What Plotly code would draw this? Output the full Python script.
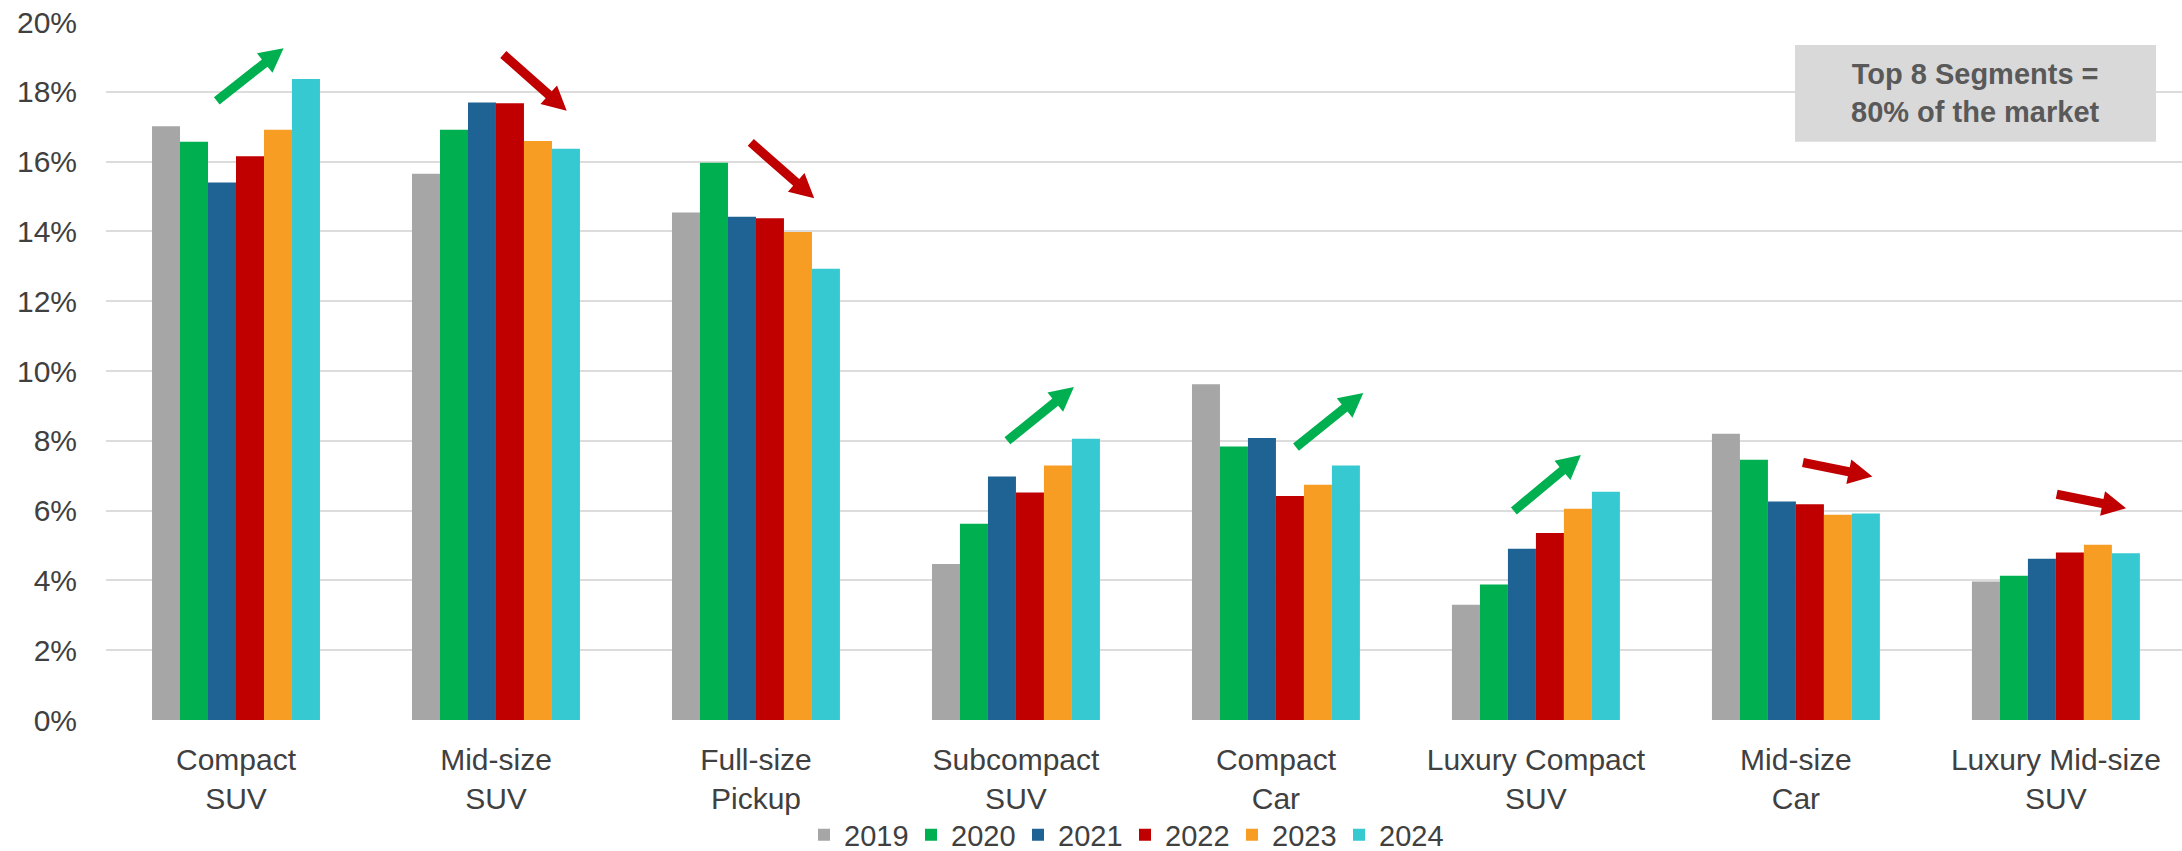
import math
import plotly.graph_objects as go

# Vehicle segment share of the US market, 2019-2024
segments = [
    "Compact<br>SUV",
    "Mid-size<br>SUV",
    "Full-size<br>Pickup",
    "Subcompact<br>SUV",
    "Compact<br>Car",
    "Luxury Compact<br>SUV",
    "Mid-size<br>Car",
    "Luxury Mid-size<br>SUV",
]
years = ["2019", "2020", "2021", "2022", "2023", "2024"]

share_2019 = [17.01, 15.65, 14.54, 4.47, 9.62, 3.30, 8.20, 3.97]
share_2020 = [16.57, 16.91, 15.97, 5.62, 7.84, 3.88, 7.46, 4.13]
share_2021 = [15.40, 17.69, 14.42, 6.98, 8.08, 4.91, 6.26, 4.62]
share_2022 = [16.15, 17.67, 14.38, 6.52, 6.42, 5.36, 6.18, 4.80]
share_2023 = [16.91, 16.59, 13.98, 7.29, 6.74, 6.05, 5.88, 5.02]
share_2024 = [18.37, 16.37, 12.93, 8.06, 7.29, 6.54, 5.92, 4.78]
shares = [share_2019, share_2020, share_2021, share_2022, share_2023, share_2024]

year_colors = ["#A6A6A6", "#00B050", "#1F6394", "#C00000", "#F89D23", "#36C9D2"]

# Trend arrows: (segment index offset, start %, end %) for tail and head
trend_arrows = [
    ((-0.074, 17.74), (0.183, 19.25), "up"),
    ((1.028, 19.07), (1.272, 17.46), "down"),
    ((1.980, 16.55), (2.224, 14.95), "down"),
    ((2.967, 8.00), (3.223, 9.54), "up"),
    ((4.077, 7.82), (4.336, 9.37), "up"),
    ((4.915, 5.99), (5.173, 7.59), "up"),
    ((6.027, 7.38), (6.294, 6.98), "down"),
    ((7.003, 6.47), (7.270, 6.07), "down"),
]
arrow_colors = {"up": "#00B050", "down": "#C00000"}

callout_lines = ["Top 8 Segments =", "80% of the market"]

FONT = "Liberation Sans, Arial, sans-serif"
TEXT = "#404040"

W_FIG, H_FIG = 2182, 851
M_L, M_R, M_T, M_B = 106, 0, 22, 130.7
PW = W_FIG - M_L - M_R
PH = H_FIG - M_T - M_B
X_RANGE = [-0.5, 7.485]
Y_RANGE = [0, 0.20]

fig = go.Figure()
for yr, vals, col in zip(years, shares, year_colors):
    fig.add_trace(go.Bar(
        name=yr,
        x=segments,
        y=[v / 100 for v in vals],
        marker=dict(color=col, line=dict(width=0)),
    ))


def to_px(xd, yd_pct):
    px = M_L + (xd - X_RANGE[0]) / (X_RANGE[1] - X_RANGE[0]) * PW
    py = M_T + PH - (yd_pct / 100 - Y_RANGE[0]) / (Y_RANGE[1] - Y_RANGE[0]) * PH
    return px, py


def to_paper(px, py):
    return (px - M_L) / PW, (M_T + PH - py) / PH


def arrow_path(tail, tip, shaft=4.6, head_len=24, head_half=12.5):
    tx, ty = to_px(*tail)
    hx, hy = to_px(*tip)
    dx, dy = hx - tx, hy - ty
    L = math.hypot(dx, dy)
    ux, uy = dx / L, dy / L
    nx, ny = -uy, ux
    bx, by = hx - ux * head_len, hy - uy * head_len
    pts = [
        (tx + nx * shaft, ty + ny * shaft),
        (bx + nx * shaft, by + ny * shaft),
        (bx + nx * head_half, by + ny * head_half),
        (hx, hy),
        (bx - nx * head_half, by - ny * head_half),
        (bx - nx * shaft, by - ny * shaft),
        (tx - nx * shaft, ty - ny * shaft),
    ]
    pp = [to_paper(x, y) for x, y in pts]
    return "M " + " L ".join(f"{x:.5f},{y:.5f}" for x, y in pp) + " Z"


shapes = []
for tail, tip, kind in trend_arrows:
    shapes.append(dict(
        type="path", xref="paper", yref="paper",
        path=arrow_path(tail, tip),
        fillcolor=arrow_colors[kind], line=dict(width=0), layer="above",
    ))

# Callout box
bx0, by0 = to_paper(1795, 141.7)
bx1, by1 = to_paper(2156, 45)
shapes.append(dict(type="rect", xref="paper", yref="paper",
                   x0=bx0, x1=bx1, y0=by0, y1=by1,
                   fillcolor="#D9D9D9", line=dict(width=0), layer="above"))

cx, cy = to_paper(1975.5, 93.4)
annotations = [dict(
    xref="paper", yref="paper", x=cx, y=cy, xanchor="center", yanchor="middle",
    text="<b>" + "<br>".join(callout_lines) + "</b>", showarrow=False,
    align="center", font=dict(family=FONT, size=29, color="#595959"),
)]

fig.update_layout(
    width=W_FIG, height=H_FIG,
    margin=dict(l=M_L, r=M_R, t=M_T, b=M_B, pad=0, autoexpand=False),
    paper_bgcolor="white", plot_bgcolor="white",
    barmode="group", bargap=0.354, bargroupgap=0,
    font=dict(family=FONT, color=TEXT, size=29),
    showlegend=True,
    legend=dict(
        orientation="h",
        xref="container", yref="container",
        x=804 / W_FIG, y=1 - 835 / H_FIG, xanchor="left", yanchor="middle",
        font=dict(family=FONT, size=29, color=TEXT),
        entrywidth=62, entrywidthmode="pixels",
        tracegroupgap=0, itemsizing="constant",
        bgcolor="rgba(0,0,0,0)", borderwidth=0,
    ),
    xaxis=dict(
        range=X_RANGE, showgrid=False, zeroline=False, showline=False,
        ticks="", tickfont=dict(family=FONT, size=30, color=TEXT),
        ticklabelstandoff=19, fixedrange=True,
    ),
    yaxis=dict(
        range=list(Y_RANGE), dtick=0.02, tickformat=".0%",
        showgrid=True, gridcolor="#DCDCDC", gridwidth=1.6,
        zeroline=False, showline=False, ticks="",
        tickfont=dict(family=FONT, size=30, color=TEXT),
        ticklabelstandoff=28, fixedrange=True,
    ),
    shapes=shapes,
    annotations=annotations,
)

fig.write_html("out.html")
